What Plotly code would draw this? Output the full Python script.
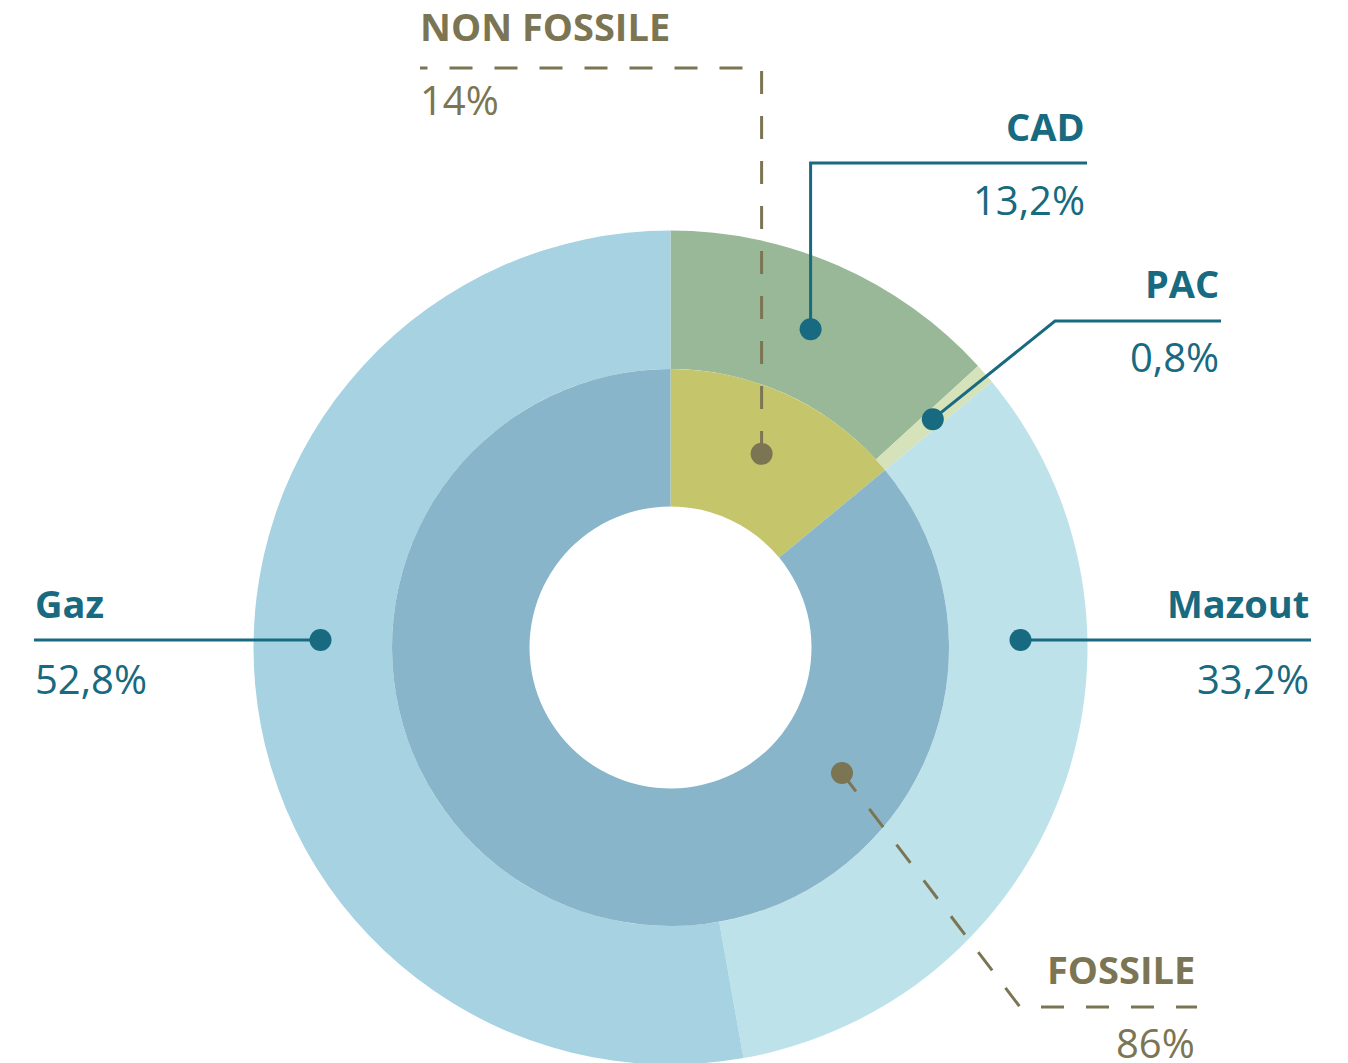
import math
import plotly.graph_objects as go

# ---------------- data ----------------
outer_labels = ["CAD", "PAC", "Mazout", "Gaz"]
outer_values = [13.2, 0.8, 33.2, 52.8]
outer_text = ["13,2%", "0,8%", "33,2%", "52,8%"]
outer_colors = ["#99B898", "#D5E2BA", "#BEE2EA", "#A6D2E2"]

inner_labels = ["NON FOSSILE", "FOSSILE"]
inner_values = [14, 86]
inner_text = ["14%", "86%"]
inner_colors = ["#C5C56C", "#88B5CA"]

TEAL = "#176A80"
OLIVE = "#7B7553"

# ---------------- geometry (screen pixels) ----------------
W, H = 1348, 1063
OFF = 8  # default page margin of the HTML body
CX, CY = 670.5, 647.5
R_OUT, R_MID, R_IN = 417, 278.5, 141


def dom(r):
    cx, cy = CX - OFF, CY - OFF
    return dict(x=[(cx - r) / W, (cx + r) / W], y=[1 - (cy + r) / H, 1 - (cy - r) / H])


fig = go.Figure()
fig.add_trace(go.Pie(labels=outer_labels, values=outer_values, sort=False,
                     direction="clockwise", rotation=0, hole=R_MID / R_OUT,
                     domain=dom(R_OUT), textinfo="none", hoverinfo="label+percent",
                     marker=dict(colors=outer_colors, line=dict(width=0)),
                     showlegend=False))
fig.add_trace(go.Pie(labels=inner_labels, values=inner_values, sort=False,
                     direction="clockwise", rotation=0, hole=R_IN / R_MID,
                     domain=dom(R_MID), textinfo="none", hoverinfo="label+percent",
                     marker=dict(colors=inner_colors, line=dict(width=0)),
                     showlegend=False))
# invisible trace to anchor the cartesian axes used for callouts
fig.add_trace(go.Scatter(x=[OFF], y=[OFF], mode="markers", marker=dict(opacity=0),
                         hoverinfo="skip", showlegend=False))


def polar(angle_deg, r):
    a = math.radians(angle_deg)
    return CX + r * math.sin(a), CY - r * math.cos(a)


def mid_angle(values, i):
    tot = sum(values)
    return (sum(values[:i]) + values[i] / 2) / tot * 360


r_outer_mid = (R_MID + R_OUT) / 2
DASH = "23px,22px"
callouts = []
# CAD
d = polar(mid_angle(outer_values, 0), r_outer_mid)
callouts.append((outer_labels[0], outer_text[0], d, [(d[0], 163), (1087, 163)], "right", 1087, 126, 199, TEAL, "solid"))
# PAC
d = polar(mid_angle(outer_values, 1), r_outer_mid)
callouts.append((outer_labels[1], outer_text[1], d, [(1055, 321), (1221, 321)], "right", 1221, 283, 356, TEAL, "solid"))
# Mazout
d = (CX + 350, 640)
callouts.append((outer_labels[2], outer_text[2], d, [(1311, 640)], "right", 1311, 603, 678, TEAL, "solid"))
# Gaz
d = (CX - 350, 640)
callouts.append((outer_labels[3], outer_text[3], d, [(34, 640)], "left", 33, 603, 678, TEAL, "solid"))
# NON FOSSILE
d = polar(mid_angle(inner_values, 0), 214)
callouts.append((inner_labels[0], inner_text[0], d, [(d[0], 68), (420, 68)], "left", 418, 26, 99, OLIVE, DASH))
# FOSSILE
d = (842, 773)
callouts.append((inner_labels[1], inner_text[1], d, [(1020, 1007), (1197, 1007)], "right", 1197, 969, 1042, OLIVE, DASH))

DOT_R = 11
for title, val, dot, path, side, lx, ty, vy, col, dash in callouts:
    pts = [dot] + path
    p = "M " + " L ".join(f"{x:.1f},{y:.1f}" for x, y in pts)
    fig.add_shape(type="path", path=p, xref="x", yref="y", layer="above",
                  line=dict(color=col, width=3, dash=dash))
    fig.add_shape(type="circle", xref="x", yref="y", layer="above",
                  x0=dot[0] - DOT_R, x1=dot[0] + DOT_R, y0=dot[1] - DOT_R, y1=dot[1] + DOT_R,
                  fillcolor=col, line=dict(width=0))
    fig.add_annotation(x=lx, y=ty, xref="x", yref="y", text=f"<b>{title}</b>", showarrow=False,
                       xanchor=side, yanchor="middle",
                       font=dict(family="Open Sans", size=38, color=col))
    fig.add_annotation(x=lx, y=vy, xref="x", yref="y", text=val, showarrow=False,
                       xanchor=side, yanchor="middle",
                       font=dict(family="Open Sans", size=40, color=col))

fig.update_layout(
    width=W, height=H, margin=dict(l=0, r=0, t=0, b=0),
    paper_bgcolor="white", plot_bgcolor="rgba(0,0,0,0)",
    xaxis=dict(range=[OFF, W + OFF], visible=False, fixedrange=True, domain=[0, 1]),
    yaxis=dict(range=[H + OFF, OFF], visible=False, fixedrange=True, domain=[0, 1]),
    showlegend=False,
)

fig.write_html("out.html")
